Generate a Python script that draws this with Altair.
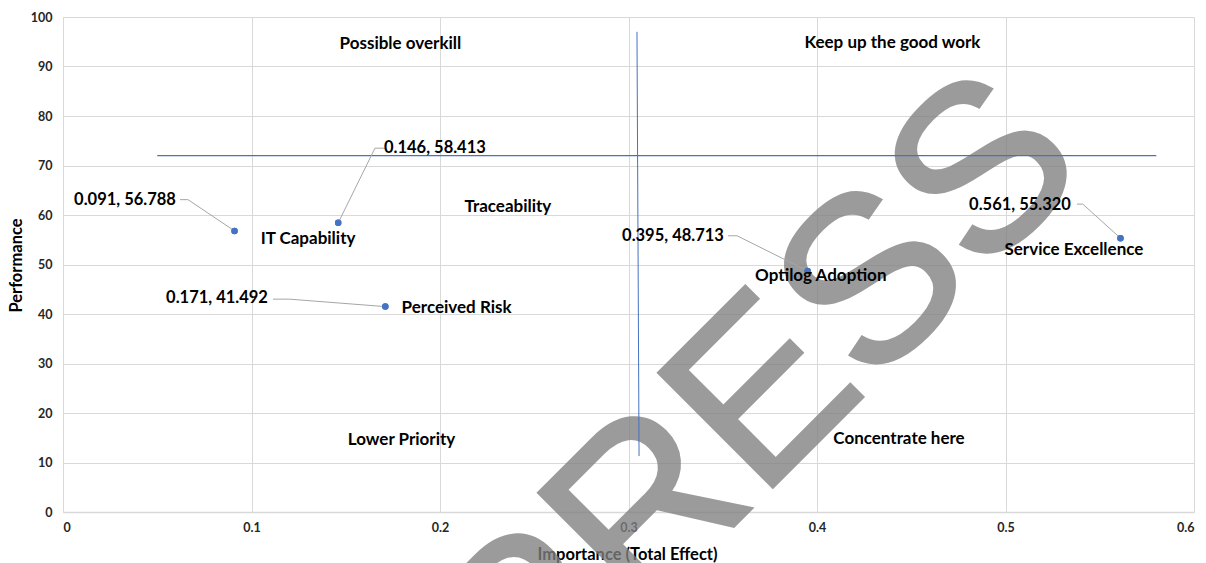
import altair as alt
import pandas as pd

# Importance–performance map data
importance = [0.091, 0.146, 0.171, 0.395, 0.561]
performance = [56.788, 58.413, 41.492, 48.713, 55.320]
value_labels = ["0.091, 56.788", "0.146, 58.413", "0.171, 41.492",
                "0.395, 48.713", "0.561, 55.320"]

# where each "x, y" label sits and where its leader line leaves it
label_x = [0.0329, 0.1973, 0.0817, 0.3236, 0.5077]
label_y = [63.0, 73.5, 43.2, 55.8, 62.0]
leader_start_x = [0.0621, 0.1708, 0.1114, 0.3528, 0.5379]
leader_elbow_x = [0.0663, 0.1655, 0.1200, 0.3576, 0.5410]
leader_y = [63.1, 73.5, 43.0, 55.8, 62.2]

# construct names placed beside the points
construct_names = ["IT Capability", "Traceability", "Perceived Risk",
                   "Optilog Adoption", "Service Excellence"]
name_x = [0.130, 0.236, 0.2088, 0.402, 0.5363]
name_y = [55.2, 61.6, 41.2, 47.7, 52.9]

# quadrant captions
quadrant_names = ["Possible overkill", "Keep up the good work",
                  "Lower Priority", "Concentrate here"]
quadrant_x = [0.179, 0.44, 0.1796, 0.4435]
quadrant_y = [94.5, 94.7, 14.5, 14.7]

# cut-off lines (mean performance / mean importance)
h_line_x = [0.05, 0.58]
h_line_y = [72, 72]
v_line_x = [0.3045, 0.3056]
v_line_y = [97, 11.3]

x_ticks = [0, 0.1, 0.2, 0.3, 0.4, 0.5, 0.6]
y_ticks = [0, 10, 20, 30, 40, 50, 60, 70, 80, 90, 100]

FONT = "Lato"
BLUE = "#4472C4"

points = pd.DataFrame({"x": importance, "y": performance, "label": value_labels,
                       "lx": label_x, "ly": label_y})
names = pd.DataFrame({"x": name_x, "y": name_y, "name": construct_names})
quads = pd.DataFrame({"x": quadrant_x, "y": quadrant_y, "name": quadrant_names})

leader_rows = []
for i in range(len(importance)):
    leader_rows += [
        {"id": i, "o": 0, "x": leader_start_x[i], "y": leader_y[i]},
        {"id": i, "o": 1, "x": leader_elbow_x[i], "y": leader_y[i]},
        {"id": i, "o": 2, "x": importance[i], "y": performance[i]},
    ]
leaders = pd.DataFrame(leader_rows)

hline = pd.DataFrame({"x": h_line_x, "y": h_line_y})
vline = pd.DataFrame({"x": v_line_x, "y": v_line_y})

xscale = alt.Scale(domain=[0, 0.6], nice=False)
yscale = alt.Scale(domain=[0, 100], nice=False)

x_axis = alt.Axis(values=x_ticks, format="~g", title="Importance (Total Effect)",
                  grid=True, gridColor="#d9d9d9", domainColor="#d9d9d9",
                  domainWidth=1.5, ticks=False, labelPadding=9,
                  labelFont=FONT, labelFontSize=12.5, labelFontWeight="bold",
                  labelColor="#262626", titleFont=FONT, titleFontSize=16.5,
                  titleFontWeight="bold", titleColor="#000000",
                  titleX=564, titleY=42, titleBaseline="middle", titleAlign="center")
y_axis = alt.Axis(values=y_ticks, title="Performance", grid=True,
                  gridColor="#d9d9d9", domainColor="#d9d9d9", ticks=False,
                  labelPadding=11, labelFont=FONT, labelFontSize=12.5,
                  labelFontWeight="bold", labelColor="#262626",
                  titleFont=FONT, titleFontSize=16.5, titleFontWeight="bold",
                  titleColor="#000000", titleX=-47, titleY=248,
                  titleAngle=270, titleBaseline="middle", titleAlign="center")

# large diagonal watermark sitting behind the data marks
watermark = alt.Chart(pd.DataFrame({"t": ["PRESS"]})).mark_text(
    font="Liberation Sans", fontSize=235, color="#808080", opacity=0.78,
    stroke="#808080", strokeWidth=3,
    angle=315, align="center", baseline="alphabetic").encode(
    x=alt.value(747), y=alt.value(433), text="t:N")

base_points = alt.Chart(points).mark_circle(size=42, color=BLUE, opacity=1).encode(
    x=alt.X("x:Q", scale=xscale, axis=x_axis),
    y=alt.Y("y:Q", scale=yscale, axis=y_axis),
)

h_rule = alt.Chart(hline).mark_line(color=BLUE, strokeWidth=1.2).encode(
    x=alt.X("x:Q", scale=xscale), y=alt.Y("y:Q", scale=yscale))
v_rule = alt.Chart(vline).mark_line(color=BLUE, strokeWidth=1).encode(
    x=alt.X("x:Q", scale=xscale), y=alt.Y("y:Q", scale=yscale))

leader_lines = alt.Chart(leaders).mark_line(color="#a6a6a6", strokeWidth=1).encode(
    x=alt.X("x:Q", scale=xscale), y=alt.Y("y:Q", scale=yscale),
    detail="id:N", order="o:Q")

value_text = alt.Chart(points).mark_text(
    font=FONT, fontSize=16.5, fontWeight="bold", color="#000000",
    align="center", baseline="middle").encode(
    x=alt.X("lx:Q", scale=xscale), y=alt.Y("ly:Q", scale=yscale), text="label:N")

name_text = alt.Chart(names).mark_text(
    font=FONT, fontSize=17, fontWeight="bold", color="#000000",
    align="center", baseline="middle").encode(
    x=alt.X("x:Q", scale=xscale), y=alt.Y("y:Q", scale=yscale), text="name:N")

quad_text = alt.Chart(quads).mark_text(
    font=FONT, fontSize=17, fontWeight="bold", color="#000000",
    align="center", baseline="middle").encode(
    x=alt.X("x:Q", scale=xscale), y=alt.Y("y:Q", scale=yscale), text="name:N")

chart = alt.layer(
    base_points, watermark, h_rule, v_rule, leader_lines, base_points,
    value_text, name_text, quad_text
).properties(
    width=1131, height=495,
    padding={"left": 63, "top": 17, "right": 12, "bottom": 51},
    autosize=alt.AutoSizeParams(type="none"),
    background="#ffffff",
).configure_view(stroke=None)

chart.save("out.html", embed_options={"renderer": "svg", "actions": False})
